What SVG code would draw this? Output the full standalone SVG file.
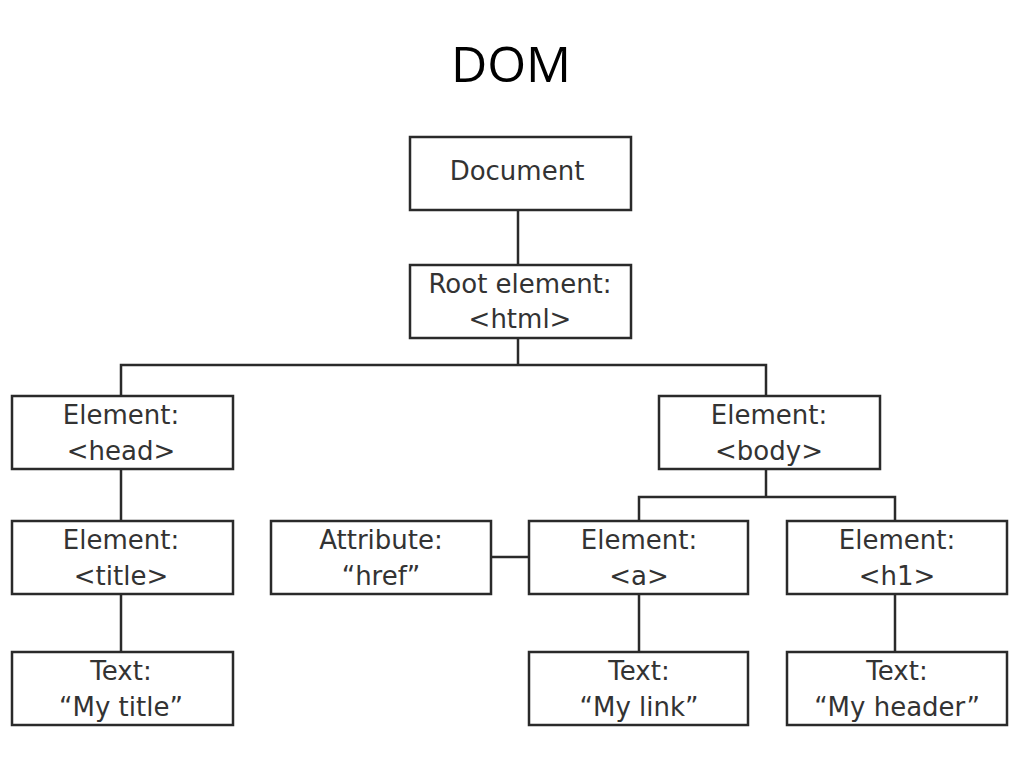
<svg xmlns="http://www.w3.org/2000/svg" width="1024" height="767" viewBox="0 0 1024 767">
<style>
.box{fill:#fff;stroke:#2a2a2a;stroke-width:2.5}
.t{font-family:"DejaVu Sans",Verdana,sans-serif;font-size:26px;fill:#333;text-anchor:middle}
.c{stroke:#2a2a2a;stroke-width:2.5;fill:none}
.title{font-family:"Open Sans","Noto Sans",sans-serif;font-size:50px;fill:#000;text-anchor:middle}
</style>
<rect width="1024" height="767" fill="#fff"/>
<text class="title" x="511" y="82">DOM</text>
<g id="connectors">
<line class="c" x1="518" y1="210" x2="518" y2="265"/>
<line class="c" x1="518" y1="338" x2="518" y2="365"/>
<polyline class="c" points="121,396 121,365 766,365 766,396"/>
<line class="c" x1="121" y1="469" x2="121" y2="521"/>
<line class="c" x1="121" y1="594" x2="121" y2="652"/>
<line class="c" x1="766" y1="469" x2="766" y2="497"/>
<polyline class="c" points="639,521 639,497 895,497 895,521"/>
<line class="c" x1="491" y1="557" x2="529" y2="557"/>
<line class="c" x1="639" y1="594" x2="639" y2="652"/>
<line class="c" x1="895" y1="594" x2="895" y2="652"/>
</g>
<g id="document"><rect class="box" x="410" y="137" width="221" height="73"/><text class="t" x="517" y="180">Document</text></g>
<g id="root"><rect class="box" x="410" y="265" width="221" height="73"/><text class="t" x="520" y="293">Root element:</text><text class="t" x="520" y="328">&lt;html&gt;</text></g>
<g id="head"><rect class="box" x="12" y="396" width="221" height="73"/><text class="t" x="121" y="424">Element:</text><text class="t" x="121" y="460">&lt;head&gt;</text></g>
<g id="body"><rect class="box" x="659" y="396" width="221" height="73"/><text class="t" x="769" y="424">Element:</text><text class="t" x="769" y="460">&lt;body&gt;</text></g>
<g id="title-el"><rect class="box" x="12" y="521" width="221" height="73"/><text class="t" x="121" y="549">Element:</text><text class="t" x="121" y="585">&lt;title&gt;</text></g>
<g id="attr"><rect class="box" x="271" y="521" width="220" height="73"/><text class="t" x="381" y="549">Attribute:</text><text class="t" x="381" y="585">“href”</text></g>
<g id="a-el"><rect class="box" x="529" y="521" width="219" height="73"/><text class="t" x="639" y="549">Element:</text><text class="t" x="639" y="585">&lt;a&gt;</text></g>
<g id="h1-el"><rect class="box" x="787" y="521" width="220" height="73"/><text class="t" x="897" y="549">Element:</text><text class="t" x="897" y="585">&lt;h1&gt;</text></g>
<g id="text-title"><rect class="box" x="12" y="652" width="221" height="73"/><text class="t" x="121" y="680">Text:</text><text class="t" x="121" y="716">“My title”</text></g>
<g id="text-link"><rect class="box" x="529" y="652" width="219" height="73"/><text class="t" x="639" y="680">Text:</text><text class="t" x="639" y="716">“My link”</text></g>
<g id="text-header"><rect class="box" x="787" y="652" width="220" height="73"/><text class="t" x="897" y="680">Text:</text><text class="t" x="897" y="716">“My header”</text></g>
</svg>
